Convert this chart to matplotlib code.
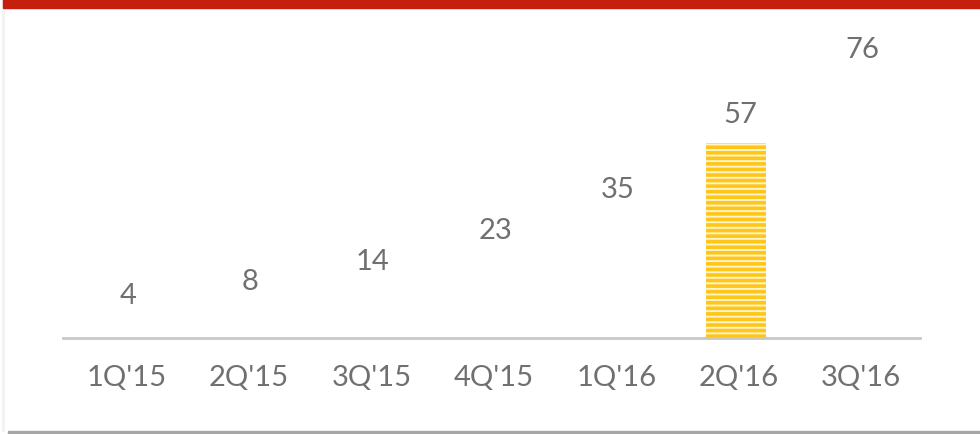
import matplotlib
matplotlib.use("Agg")
import matplotlib.pyplot as plt
from matplotlib.patches import Rectangle

# quarterly values
quarters = ["1Q'15", "2Q'15", "3Q'15", "4Q'15", "1Q'16", "2Q'16", "3Q'16"]
values = [4, 8, 14, 23, 35, 57, 76]
highlight = "2Q'16"

plt.rcParams['font.family'] = ['Lato', 'DejaVu Sans']
plt.rcParams['hatch.linewidth'] = 2.6

fig = plt.figure(figsize=(9.8, 4.35), dpi=100)
W, H = 980, 435
ax = fig.add_axes([63 / W, 96 / H, 857 / W, 309 / H])

x = range(len(quarters))
for i, (q, v) in enumerate(zip(quarters, values)):
    if q == highlight:
        ax.bar(i, v, width=0.49, color="#FFF4CC", edgecolor="#FFC61A",
               hatch="---", linewidth=0)
    else:
        ax.bar(i, v, width=0.49, color="white", linewidth=0)
    ax.annotate(str(v), (i + 0.03, v), xytext=(0, 21), textcoords="offset points",
                ha="center", va="center", fontsize=21, color="#707070")

ax.set_xlim(-0.5, len(quarters) - 0.5)
ax.set_ylim(0, 90.3)
ax.set_xticks([i + 0.02 for i in x])
ax.set_xticklabels(quarters, fontsize=21, color="#707070")
ax.tick_params(axis="x", length=0, pad=19)
ax.set_yticks([])
for s in ["top", "right", "left"]:
    ax.spines[s].set_visible(False)
ax.spines["bottom"].set_color("#c8c8c8")
ax.spines["bottom"].set_linewidth(2)

# red band on top and grey line at bottom
fig.patches.append(Rectangle((3 / W, 1 - 9 / H), 1, 9 / H, transform=fig.transFigure,
                             color="#C5200E", zorder=5))
fig.patches.append(Rectangle((8 / W, 0), 1, 3 / H, transform=fig.transFigure,
                             color="#a6a6a6", zorder=5))
fig.patches.append(Rectangle((2 / W, 3 / H), 1.5 / W, 1, transform=fig.transFigure,
                             color="#f3f3f3", zorder=4))

fig.savefig("out.png", dpi=100)
